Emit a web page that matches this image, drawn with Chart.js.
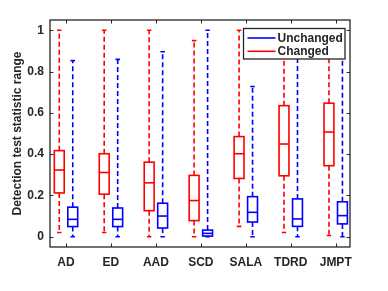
<!DOCTYPE html>
<html>
<head>
<meta charset="utf-8">
<script src="https://cdn.jsdelivr.net/npm/chart.js@4/dist/chart.umd.min.js"></script>
<style>
html,body{margin:0;padding:0;background:#fff;}
#wrap{width:388px;height:291px;position:relative;}
</style>
</head>
<body>
<div id="wrap"><canvas id="c" width="388" height="291"></canvas></div>
<script>
const categories = ['AD','ED','AAD','SCD','SALA','TDRD','JMPT'];
const yTicks = [0, 0.2, 0.4, 0.6, 0.8, 1];
const seriesNames = ['Unchanged','Changed'];

const changedMin = [0.02, 0.02, 0.0, 0.0, 0.05, 0.02, 0.006];
const changedQ1  = [0.212, 0.206, 0.126, 0.078, 0.282, 0.295, 0.344];
const changedMed = [0.323, 0.311, 0.261, 0.175, 0.402, 0.449, 0.507];
const changedQ3  = [0.417, 0.402, 0.361, 0.297, 0.485, 0.635, 0.647];
const changedMax = [1.0, 1.0, 1.0, 0.95, 1.0, 1.0, 1.0];

const unchangedMin = [0, 0, 0, 0, 0, 0, 0];
const unchangedQ1  = [0.049, 0.049, 0.042, 0.003, 0.071, 0.05, 0.062];
const unchangedMed = [0.084, 0.084, 0.10, 0.016, 0.118, 0.086, 0.102];
const unchangedQ3  = [0.143, 0.139, 0.162, 0.032, 0.194, 0.183, 0.169];
const unchangedMax = [0.853, 0.859, 0.896, 1.0, 0.728, 1.0, 1.0];

const RED = '#ff0000', BLUE = '#0000ff', AX = '#262626';
const FONT = '"Liberation Sans", Arial, Helvetica, sans-serif';

const groups = [
  {name: seriesNames[1], color: RED, offset: -0.15, min: changedMin, q1: changedQ1, med: changedMed, q3: changedQ3, max: changedMax},
  {name: seriesNames[0], color: BLUE, offset: 0.15, min: unchangedMin, q1: unchangedQ1, med: unchangedMed, q3: unchangedQ3, max: unchangedMax}
];

const boxPlugin = {
  id: 'boxes',
  afterDatasetsDraw(chart) {
    const ctx = chart.ctx, xs = chart.scales.x, ys = chart.scales.y;
    const halfW = xs.getPixelForValue(1.11) - xs.getPixelForValue(1);
    const capW = halfW * 0.45;
    ctx.save();
    groups.forEach(g => {
      categories.forEach((c, i) => {
        const xc = xs.getPixelForValue(i + 1 + g.offset);
        const pMin = ys.getPixelForValue(g.min[i]);
        const pQ1 = ys.getPixelForValue(g.q1[i]);
        const pMed = ys.getPixelForValue(g.med[i]);
        const pQ3 = ys.getPixelForValue(g.q3[i]);
        const pMax = ys.getPixelForValue(g.max[i]);
        ctx.strokeStyle = g.color;
        // whiskers dashed
        ctx.lineWidth = 1.6;
        ctx.setLineDash([5, 3]);
        ctx.beginPath();
        ctx.moveTo(xc, pQ3); ctx.lineTo(xc, pMax);
        ctx.moveTo(xc, pQ1); ctx.lineTo(xc, pMin);
        ctx.stroke();
        ctx.setLineDash([]);
        // caps
        ctx.beginPath();
        ctx.moveTo(xc - capW, pMax); ctx.lineTo(xc + capW, pMax);
        ctx.moveTo(xc - capW, pMin); ctx.lineTo(xc + capW, pMin);
        ctx.stroke();
        // box
        ctx.lineWidth = 1.6;
        ctx.strokeRect(xc - halfW, pQ3, halfW * 2, pQ1 - pQ3);
        ctx.beginPath();
        ctx.moveTo(xc - halfW, pMed); ctx.lineTo(xc + halfW, pMed);
        ctx.stroke();
      });
    });
    ctx.restore();
  },
  afterDraw(chart) {
    const ctx = chart.ctx, a = chart.chartArea, xs = chart.scales.x, ys = chart.scales.y;
    ctx.save();
    // frame
    ctx.strokeStyle = AX;
    ctx.lineWidth = 1.3;
    ctx.strokeRect(a.left, a.top, a.right - a.left, a.bottom - a.top);
    // inward ticks
    ctx.lineWidth = 1;
    ctx.beginPath();
    categories.forEach((c, i) => {
      const x = Math.round(xs.getPixelForValue(i + 1)) + 0.5;
      ctx.moveTo(x, a.bottom); ctx.lineTo(x, a.bottom - 3.5);
      ctx.moveTo(x, a.top); ctx.lineTo(x, a.top + 3.5);
    });
    yTicks.forEach(v => {
      const y = Math.round(ys.getPixelForValue(v)) + 0.5;
      ctx.moveTo(a.left, y); ctx.lineTo(a.left + 3.5, y);
      ctx.moveTo(a.right, y); ctx.lineTo(a.right - 3.5, y);
    });
    ctx.stroke();
    // legend box
    const lx = 243.5, ly = 28.5, lw = 101.5, lh = 30.5;
    ctx.fillStyle = '#fff';
    ctx.fillRect(lx, ly, lw, lh);
    ctx.strokeStyle = AX;
    ctx.lineWidth = 1.3;
    ctx.strokeRect(lx, ly, lw, lh);
    const entries = [groups[1], groups[0]];
    ctx.font = 'bold 12px ' + FONT;
    ctx.textBaseline = 'middle';
    ctx.textAlign = 'left';
    entries.forEach((g, k) => {
      const yy = ly + 9.5 + k * 13.3;
      ctx.strokeStyle = g.color;
      ctx.lineWidth = 1.6;
      ctx.beginPath();
      ctx.moveTo(lx + 4, yy); ctx.lineTo(lx + 32, yy);
      ctx.stroke();
      ctx.fillStyle = AX;
      ctx.fillText(g.name, lx + 34, yy + 0.5);
    });
    ctx.restore();
  }
};

new Chart(document.getElementById('c'), {
  type: 'scatter',
  data: { datasets: [] },
  options: {
    responsive: false,
    animation: false,
    devicePixelRatio: 1,
    layout: { padding: { left: 0, top: 20, right: 38, bottom: 0 } },
    plugins: { legend: { display: false }, tooltip: { enabled: false } },
    scales: {
      x: {
        type: 'linear',
        min: 0.644,
        max: 7.318,
        grid: { display: false, drawTicks: false },
        border: { display: false },
        afterBuildTicks: s => { s.ticks = categories.map((c, i) => ({ value: i + 1 })); },
        afterFit: s => { s.height = 44; },
        ticks: {
          autoSkip: false,
          maxRotation: 0,
          padding: 8,
          color: AX,
          font: { family: FONT, size: 12, weight: 'bold' },
          callback: v => categories[Math.round(v) - 1]
        }
      },
      y: {
        min: -0.05,
        max: 1.05,
        grid: { display: false, drawTicks: false },
        border: { display: false },
        afterBuildTicks: s => { s.ticks = yTicks.map(v => ({ value: v })); },
        afterFit: s => { s.width = 50; },
        ticks: {
          padding: 6,
          color: AX,
          font: { family: FONT, size: 12, weight: 'bold' },
          callback: v => String(Math.round(v * 10) / 10)
        },
        title: {
          display: true,
          text: 'Detection test statistic range',
          color: AX,
          padding: { top: 10, bottom: 0 },
          font: { family: FONT, size: 12, weight: 'bold' }
        }
      }
    }
  },
  plugins: [boxPlugin]
});
</script>
</body>
</html>
